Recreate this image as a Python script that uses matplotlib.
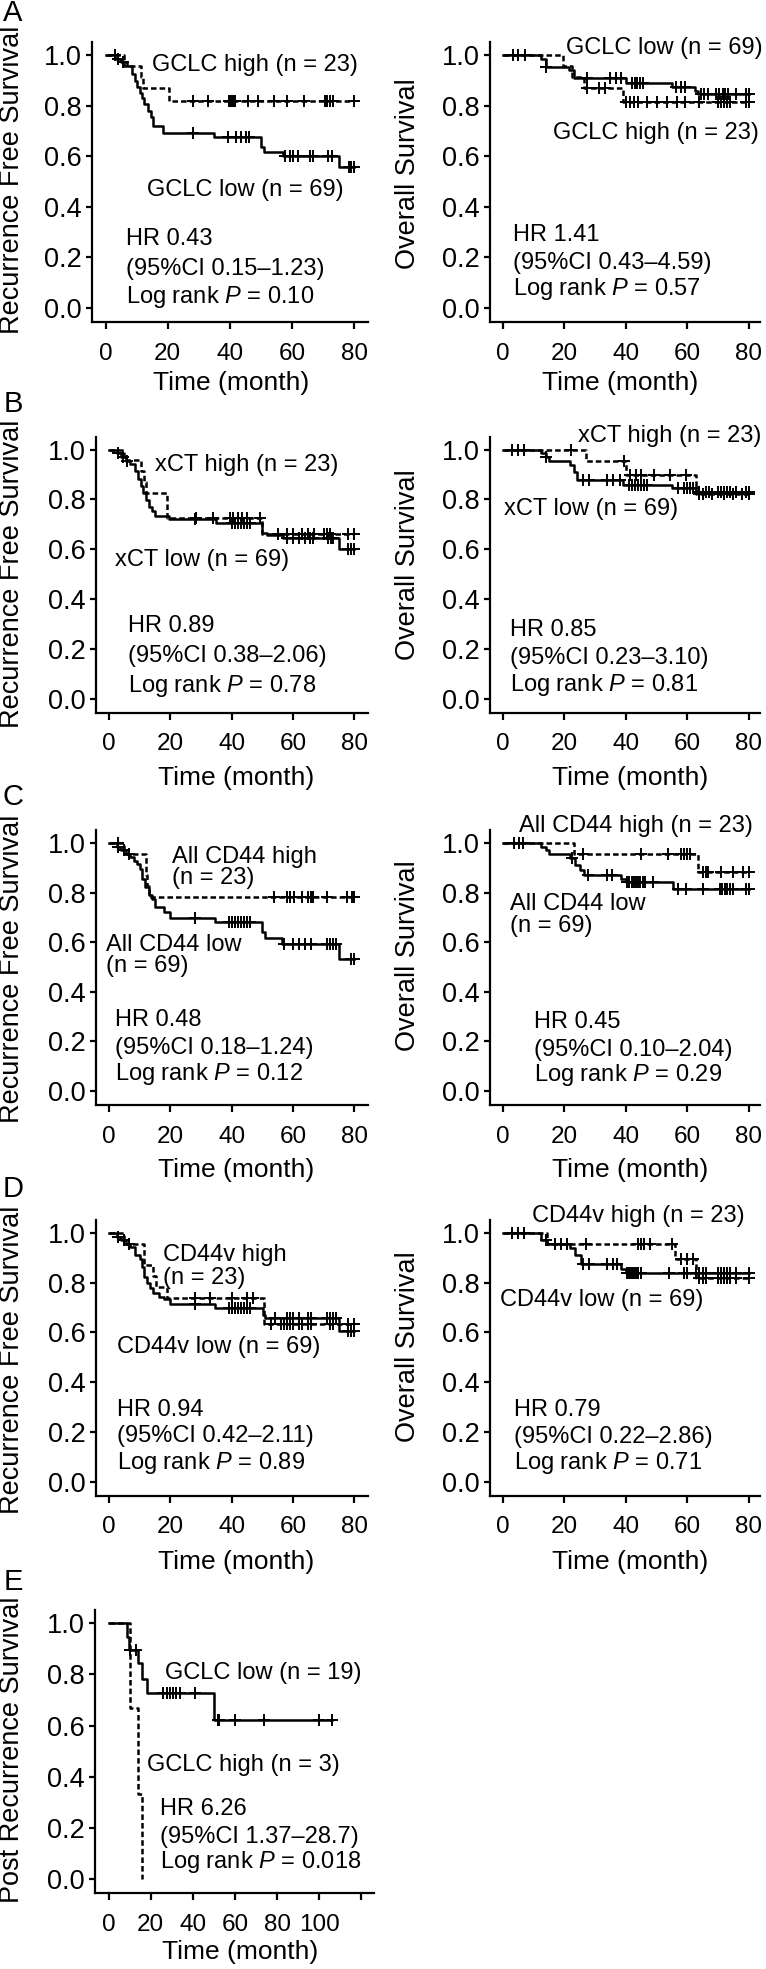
import numpy as np
import matplotlib.pyplot as plt

# Kaplan-Meier curves:
# *_t = event times (month), *_s = survival after each event, *_c = censor times

# A  GCLC, recurrence free survival
gclc_rfs_low_t = [3, 5, 7, 8.5, 9.5, 10.2, 11, 11.8, 12.5, 13.5, 14.5, 15.3, 18.5, 35, 50, 51, 57, 75]
gclc_rfs_low_s = [0.985, 0.971, 0.956, 0.927, 0.898, 0.875, 0.850, 0.830, 0.805, 0.780, 0.755, 0.720, 0.690, 0.675, 0.637, 0.617, 0.600, 0.556]
gclc_rfs_low_c = [4, 5.5, 28, 39.5, 41.9, 43.6, 45.2, 46.3, 57.7, 59.3, 60.4, 62, 65.8, 66.8, 71.7, 72.8, 78.4, 79.1, 80]
gclc_rfs_high_t = [6, 11.5, 12, 20.4]
gclc_rfs_high_s = [0.957, 0.913, 0.870, 0.820]
gclc_rfs_high_c = [3, 28, 33, 39.8, 40.3, 40.9, 41.6, 45.7, 49.1, 54.2, 58.5, 63.9, 70.8, 71.4, 72.3, 73.3, 80]

# A  GCLC, overall survival
gclc_os_low_t = [12.5, 14, 21.5, 23, 40, 55, 62.5, 63.5]
gclc_os_low_s = [0.985, 0.955, 0.940, 0.910, 0.890, 0.875, 0.860, 0.845]
gclc_os_low_c = [3.3, 4.9, 7.1, 14.1, 27.3, 35, 36.9, 38.5, 41.9, 43, 43.8, 44.6, 45.5, 56.5, 58, 59.2,
                 64.6, 65.5, 66.8, 69.5, 70.5, 71.5, 72.3, 73.3, 76, 79, 80]
gclc_os_high_t = [19.5, 22.5, 26.5, 39]
gclc_os_high_s = [0.957, 0.913, 0.870, 0.813]
gclc_os_high_c = [27.5, 31.3, 33.3, 40.1, 41.4, 42.7, 44.1, 46.9, 50.1, 53.4, 56.6, 59.3, 64,
                  70, 71, 72, 73, 73.8, 79, 80]

# B  xCT, recurrence free survival
xct_rfs_low_t = [2.5, 4, 5.5, 7, 8.5, 9.5, 10.5, 11, 12, 13, 14, 15, 19.5, 35, 50, 51.4, 56.8, 75]
xct_rfs_low_s = [0.985, 0.971, 0.956, 0.942, 0.913, 0.884, 0.855, 0.826, 0.797, 0.768, 0.753, 0.733, 0.723, 0.706, 0.666, 0.658, 0.646, 0.600]
xct_rfs_low_c = [3, 4.5, 6, 28, 40, 41, 42, 43, 44, 45, 46, 58, 60, 62, 64, 65.5, 66.6, 71.5, 72.3, 73, 78, 79, 80]
xct_rfs_high_t = [5, 10.5, 11.5, 12, 19, 50]
xct_rfs_high_s = [0.957, 0.913, 0.870, 0.826, 0.726, 0.660]
xct_rfs_high_c = [28.5, 34, 39.4, 40.5, 42, 43.5, 45, 49.4, 55, 58, 60, 63, 65, 67, 70, 71, 72, 78, 80]

# B  xCT, overall survival
xct_os_low_t = [12.5, 14, 15, 22, 23, 24, 39, 55, 63]
xct_os_low_s = [0.985, 0.970, 0.955, 0.940, 0.910, 0.877, 0.860, 0.845, 0.829]
xct_os_low_c = [3, 5, 7, 14, 26, 28, 34, 36, 38, 41, 42, 43, 44, 45, 46, 47, 57, 59, 60, 61, 62,
                64, 66, 67, 70, 71, 72, 73, 74, 76, 79, 80]
xct_os_high_t = [27, 40, 63]
xct_os_high_s = [0.955, 0.900, 0.820]
xct_os_high_c = [22.2, 39.3, 41.5, 43.2, 44.9, 49.2, 54.5, 59.5, 64, 65, 68, 72, 75, 78, 80]

# C  all CD44, recurrence free survival
cd44_rfs_low_t = [2.5, 4, 5.5, 7, 8, 9, 10, 10.8, 11.8, 12.9, 14, 15.1, 17.8, 20, 34.7, 50, 51, 56.4, 74.9]
cd44_rfs_low_s = [0.985, 0.971, 0.956, 0.942, 0.927, 0.913, 0.896, 0.856, 0.822, 0.789, 0.775, 0.742, 0.722, 0.699, 0.683, 0.642, 0.618, 0.592, 0.532]
cd44_rfs_low_c = [3, 5, 6.5, 28, 39, 40, 41, 42, 43, 44, 45, 46, 57, 60, 62, 64, 66, 71, 72, 73, 74, 79, 80]
cd44_rfs_high_t = [5, 12, 12.5, 13]
cd44_rfs_high_s = [0.957, 0.870, 0.826, 0.782]
cd44_rfs_high_c = [3, 53.7, 58, 59, 60.2, 63, 65, 66, 66.7, 71.1, 77.6, 79.2, 80]

# C  all CD44, overall survival
cd44_os_low_t = [12.5, 14, 15, 22, 23.5, 25, 26.5, 38.5, 40, 55.5]
cd44_os_low_s = [0.985, 0.970, 0.955, 0.940, 0.910, 0.890, 0.870, 0.855, 0.842, 0.813]
cd44_os_low_c = [3.5, 5.1, 6.7, 22.4, 27.8, 33.8, 35.4, 40.5, 41.2, 41.9, 42.6, 43.3, 44, 44.7, 45.5, 46.2,
                 48.9, 57, 59.7, 65.2, 70.6, 71.4, 72.2, 73, 73.8, 74.9, 79.2, 80]
cd44_os_high_t = [23, 63.5]
cd44_os_high_s = [0.955, 0.882]
cd44_os_high_c = [26, 45.1, 53.8, 58.1, 59, 60, 60.8, 65.2, 66, 66.8, 71.1, 74.9, 78.1, 80]

# D  CD44v, recurrence free survival
cd44v_rfs_low_t = [2.5, 4, 5.5, 7, 8.5, 10, 10.8, 11.3, 12.3, 13.4, 14.5, 16.2, 17.8, 20, 34.7, 50.4, 51, 75]
cd44v_rfs_low_s = [0.985, 0.971, 0.956, 0.942, 0.913, 0.897, 0.864, 0.824, 0.797, 0.777, 0.757, 0.744, 0.733, 0.713, 0.697, 0.672, 0.657, 0.606]
cd44v_rfs_low_c = [3, 5, 6.5, 28, 39, 40, 41, 42, 43, 44, 45, 46, 54, 58, 59, 60, 62, 65, 66, 71, 72, 73, 74, 78, 79, 80]
cd44v_rfs_high_t = [5, 11.5, 14.5, 15.5, 19, 50.5]
cd44v_rfs_high_s = [0.957, 0.870, 0.826, 0.782, 0.740, 0.635]
cd44v_rfs_high_c = [28, 33, 40, 45, 47, 53, 56, 57, 58, 59, 60, 62, 63, 65, 66, 72, 73, 78, 80]

# D  CD44v, overall survival
cd44v_os_low_t = [12.5, 14.5, 22, 23.5, 25.5, 38.5, 40]
cd44v_os_low_s = [0.970, 0.955, 0.940, 0.910, 0.877, 0.857, 0.840]
cd44v_os_low_c = [3, 5, 7, 14, 21, 26, 28, 34, 36, 37, 40.5, 41, 41.5, 42, 42.5, 43, 43.5, 44, 45,
                  54, 59, 60, 63, 64, 65, 66, 70, 71, 72, 73, 74, 76, 80]
cd44v_os_high_t = [14.5, 56, 63]
cd44v_os_high_s = [0.957, 0.897, 0.820]
cd44v_os_high_c = [17, 19, 21, 27, 44, 45, 46, 48, 55, 58, 60, 62, 64, 65, 66, 70, 71, 72, 73, 74, 76, 80]

# E  GCLC, post recurrence survival
gclc_prs_low_t = [8.5, 9.5, 14, 15.7, 18, 50]
gclc_prs_low_s = [0.947, 0.895, 0.843, 0.782, 0.726, 0.622]
gclc_prs_low_c = [10, 13, 26, 27.5, 29, 30.5, 32, 34, 41, 52, 52.5, 60, 74, 100, 106]
gclc_prs_high_t = [10, 14, 16]
gclc_prs_high_s = [0.667, 0.333, 0.0]
gclc_prs_high_c = []

month_ticks = [0, 20, 40, 60, 80]
month_ticks_e = [0, 20, 40, 60, 80, 100, 120]
month_labels_e = ["0", "20", "40", "60", "80", "100", ""]
surv_ticks = [0.0, 0.2, 0.4, 0.6, 0.8, 1.0]

stats_text = {
    "A1": ["HR 0.43", "(95%CI 0.15\u20131.23)", "Log rank $P$ = 0.10"],
    "A2": ["HR 1.41", "(95%CI 0.43\u20134.59)", "Log rank $P$ = 0.57"],
    "B1": ["HR 0.89", "(95%CI 0.38\u20132.06)", "Log rank $P$ = 0.78"],
    "B2": ["HR 0.85", "(95%CI 0.23\u20133.10)", "Log rank $P$ = 0.81"],
    "C1": ["HR 0.48", "(95%CI 0.18\u20131.24)", "Log rank $P$ = 0.12"],
    "C2": ["HR 0.45", "(95%CI 0.10\u20132.04)", "Log rank $P$ = 0.29"],
    "D1": ["HR 0.94", "(95%CI 0.42\u20132.11)", "Log rank $P$ = 0.89"],
    "D2": ["HR 0.79", "(95%CI 0.22\u20132.86)", "Log rank $P$ = 0.71"],
    "E": ["HR 6.26", "(95%CI 1.37\u201328.7)", "Log rank $P$ = 0.018"],
}

W, H = 766, 1969
plt.rcParams["font.family"] = ["Liberation Sans", "DejaVu Sans"]
plt.rcParams["mathtext.fontset"] = "custom"
plt.rcParams["mathtext.rm"] = "Liberation Sans"
plt.rcParams["mathtext.it"] = "Liberation Sans:italic"
plt.rcParams["lines.scale_dashes"] = False

fig = plt.figure(figsize=(W / 100, H / 100), dpi=100)


def box(left, top, right, bottom):
    return [left / W, 1 - bottom / H, (right - left) / W, (bottom - top) / H]


def ftext(x, y, s, **kw):
    fig.text(x / W, 1 - y / H, s, **kw)


def km_curve(ax, t, s, cens, dashed=False):
    t = np.asarray(t, float)
    s = np.asarray(s, float)
    cens = np.asarray(cens, float)
    xs = np.concatenate([[0.0], t])
    ys = np.concatenate([[1.0], s])
    if len(cens) and cens.max() > t.max():
        xs = np.append(xs, cens.max())
        ys = np.append(ys, s[-1])
    ls = (0, (4, 2.2)) if dashed else "-"
    ax.plot(xs, ys, drawstyle="steps-post", color="black", lw=1.8, linestyle=ls)
    if len(cens):
        idx = np.searchsorted(xs, cens, side="right") - 1
        ax.plot(cens, ys[idx], linestyle="none", marker="+", ms=8, mew=1.4, color="black")


def make_panel(rect, xlim, xticks, xlabels, ylab, xlab_pos, ylab_pos):
    ax = fig.add_axes(box(*rect))
    ax.set_xlim(*xlim)
    ax.set_ylim(-0.056, 1.052)
    for sp in ("top", "right"):
        ax.spines[sp].set_visible(False)
    for sp in ("left", "bottom"):
        ax.spines[sp].set_linewidth(1.6)
    ax.set_xticks(xticks)
    ax.set_xticklabels(xlabels)
    ax.set_yticks(surv_ticks)
    ax.set_yticklabels([f"{v:.1f}" for v in surv_ticks])
    ax.tick_params(axis="y", direction="out", length=4.3, width=1.6, pad=3, labelsize=19.5)
    ax.tick_params(axis="x", direction="out", length=4.8, width=1.6, pad=10, labelsize=17.5)
    ftext(*xlab_pos, "Time (month)", fontsize=19, ha="center", va="center")
    ftext(*ylab_pos, ylab, fontsize=19.5, ha="center", va="center", rotation=90)
    return ax


def stats(ax, key, x, ys):
    for line, y in zip(stats_text[key], ys):
        ax.text(x, y, line, fontsize=17, ha="left", va="center")


def label(ax, x, y, s):
    ax.text(x, y, s, fontsize=17, ha="left", va="center")


XL = (-4.4, 84.5)
XR = (-4.3, 83.6)
mlab = [str(v) for v in month_ticks]
RFS = "Recurrence Free Survival"
OS = "Overall Survival"

# ---- row A ----
ax = make_panel((92, 42, 368, 322), XL, month_ticks, mlab, RFS, (230.8, 383), (12, 180))
km_curve(ax, gclc_rfs_low_t, gclc_rfs_low_s, gclc_rfs_low_c)
km_curve(ax, gclc_rfs_high_t, gclc_rfs_high_s, gclc_rfs_high_c, dashed=True)
label(ax, 14.8, 0.96, "GCLC high (n = 23)")
label(ax, 13.2, 0.468, "GCLC low (n = 69)")
stats(ax, "A1", 6.5, [0.274, 0.155, 0.044])

ax = make_panel((489.7, 42, 759.7, 322), XR, month_ticks, mlab, OS, (619.7, 383), (408, 173.5))
km_curve(ax, gclc_os_low_t, gclc_os_low_s, gclc_os_low_c)
km_curve(ax, gclc_os_high_t, gclc_os_high_s, gclc_os_high_c, dashed=True)
label(ax, 20.6, 1.03, "GCLC low (n = 69)")
label(ax, 16.3, 0.69, "GCLC high (n = 23)")
stats(ax, "A2", 3.3, [0.289, 0.176, 0.076])

# ---- row B ----
ax = make_panel((95.5, 436.7, 368, 712.7), XL, month_ticks, mlab, RFS, (235.8, 778.3), (12.5, 574))
km_curve(ax, xct_rfs_low_t, xct_rfs_low_s, xct_rfs_low_c)
km_curve(ax, xct_rfs_high_t, xct_rfs_high_s, xct_rfs_high_c, dashed=True)
label(ax, 14.9, 0.94, "xCT high (n = 23)")
label(ax, 1.9, 0.559, "xCT low (n = 69)")
stats(ax, "B1", 6.2, [0.291, 0.171, 0.053])

ax = make_panel((489.7, 436.7, 759.7, 712.7), XR, month_ticks, mlab, OS, (629.7, 778.3), (408, 565))
km_curve(ax, xct_os_low_t, xct_os_low_s, xct_os_low_c)
km_curve(ax, xct_os_high_t, xct_os_high_s, xct_os_high_c, dashed=True)
label(ax, 24.4, 1.053, "xCT high (n = 23)")
label(ax, 0.2, 0.76, "xCT low (n = 69)")
stats(ax, "B2", 2.2, [0.278, 0.164, 0.057])

# ---- row C ----
ax = make_panel((95.5, 830, 368, 1105), XL, month_ticks, mlab, RFS, (235.8, 1170), (12.5, 969))
km_curve(ax, cd44_rfs_low_t, cd44_rfs_low_s, cd44_rfs_low_c)
km_curve(ax, cd44_rfs_high_t, cd44_rfs_high_s, cd44_rfs_high_c, dashed=True)
label(ax, 20.5, 0.943, "All CD44 high")
label(ax, 20.5, 0.858, "(n = 23)")
label(ax, -0.9, 0.588, "All CD44 low")
label(ax, -0.9, 0.505, "(n = 69)")
stats(ax, "C1", 2.05, [0.285, 0.174, 0.067])

ax = make_panel((489.7, 830, 759.7, 1105), XR, month_ticks, mlab, OS, (629.7, 1170), (408, 956))
km_curve(ax, cd44_os_low_t, cd44_os_low_s, cd44_os_low_c)
km_curve(ax, cd44_os_high_t, cd44_os_high_s, cd44_os_high_c, dashed=True)
label(ax, 5.1, 1.07, "All CD44 high (n = 23)")
label(ax, 2.2, 0.753, "All CD44 low")
label(ax, 2.2, 0.666, "(n = 69)")
stats(ax, "C2", 10.2, [0.278, 0.167, 0.064])

# ---- row D ----
ax = make_panel((95.5, 1220, 368, 1495.7), XL, month_ticks, mlab, RFS, (235.8, 1561.7), (12.5, 1360))
km_curve(ax, cd44v_rfs_low_t, cd44v_rfs_low_s, cd44v_rfs_low_c)
km_curve(ax, cd44v_rfs_high_t, cd44v_rfs_high_s, cd44v_rfs_high_c, dashed=True)
label(ax, 17.6, 0.91, "CD44v high")
label(ax, 17.6, 0.82, "(n = 23)")
label(ax, 2.6, 0.543, "CD44v low (n = 69)")
stats(ax, "D1", 2.6, [0.29, 0.183, 0.076])

ax = make_panel((489.7, 1220, 759.7, 1495.7), XR, month_ticks, mlab, OS, (629.7, 1561.7), (408, 1347))
km_curve(ax, cd44v_os_low_t, cd44v_os_low_s, cd44v_os_low_c)
km_curve(ax, cd44v_os_high_t, cd44v_os_high_s, cd44v_os_high_c, dashed=True)
label(ax, 9.5, 1.07, "CD44v high (n = 23)")
label(ax, -0.85, 0.73, "CD44v low (n = 69)")
stats(ax, "D2", 3.7, [0.29, 0.18, 0.076])

# ---- row E ----
ax = make_panel((95, 1610, 374, 1893.3), (-6.5, 126.1), month_ticks_e, month_labels_e,
                "Post Recurrence Survival", (240, 1951.7), (12.5, 1750))
km_curve(ax, gclc_prs_low_t, gclc_prs_low_s, gclc_prs_low_c)
km_curve(ax, gclc_prs_high_t, gclc_prs_high_s, gclc_prs_high_c, dashed=True)
label(ax, 26.8, 0.804, "GCLC low (n = 19)")
label(ax, 18.1, 0.447, "GCLC high (n = 3)")
stats(ax, "E", 24.4, [0.273, 0.166, 0.068])

# panel letters
for s, y in zip("ABCDE", [13, 404, 797, 1189, 1582]):
    ftext(13, y, s, fontsize=21, ha="center", va="center")

fig.savefig("out.png", dpi=100)
